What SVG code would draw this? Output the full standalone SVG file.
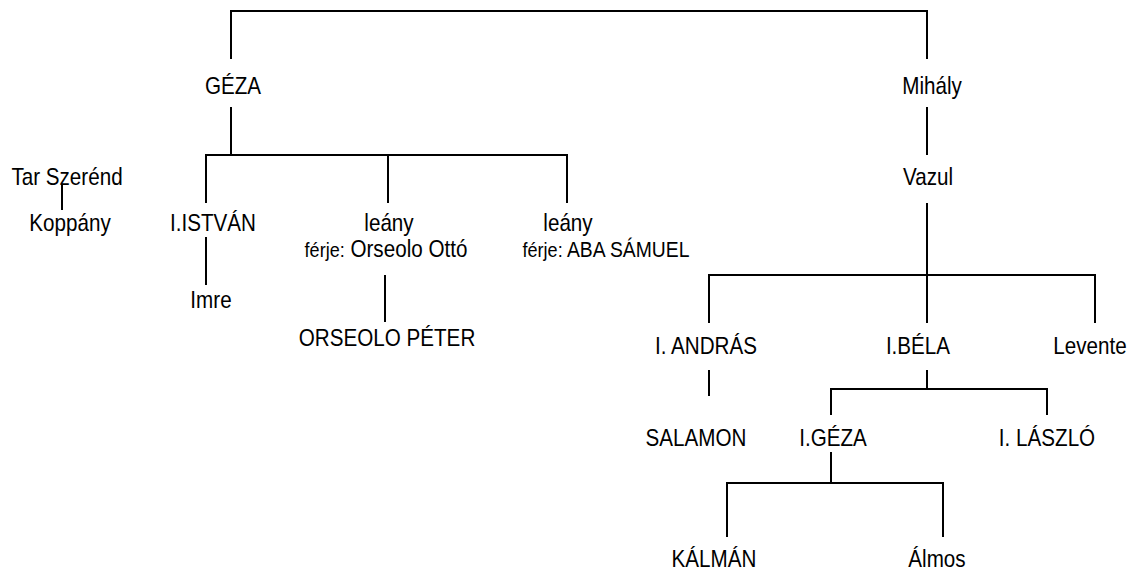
<svg xmlns="http://www.w3.org/2000/svg" width="1134" height="571" viewBox="0 0 1134 571">
<style>
  text { font-family: "Liberation Sans", Arial, sans-serif; font-size: 24px; fill: #000; text-anchor: middle; }
  .sm { font-size: 21px; }
  .md { font-size: 22.5px; }
  .conn path { fill: none; stroke: #000; stroke-width: 2; }
</style>
<rect width="1134" height="571" fill="#fff"/>
<g class="conn" id="connectors">
  <path d="M231,59 V11 H927 V59"/>
  <path d="M231,107 V155"/>
  <path d="M206,203 V155 H567 V203"/>
  <path d="M388,155 V203"/>
  <path d="M206,237 V285"/>
  <path d="M385,275 V322"/>
  <path d="M62,185 V210"/>
  <path d="M927,107 V155"/>
  <path d="M927,203 V323"/>
  <path d="M709,323 V275 H1095 V323"/>
  <path d="M709,370 V396"/>
  <path d="M927,370 V389"/>
  <path d="M831,415 V389 H1047 V415"/>
  <path d="M831,452 V483"/>
  <path d="M727,537 V483 H943 V537"/>
</g>
<g id="geza"><text transform="translate(233,94) scale(0.86,1)">GÉZA</text></g>
<g id="mihaly"><text transform="translate(932,94) scale(0.86,1)">Mihály</text></g>
<g id="tar-szerend"><text transform="translate(67,185) scale(0.86,1)">Tar Szerénd</text></g>
<g id="vazul"><text transform="translate(928,185) scale(0.86,1)">Vazul</text></g>
<g id="koppany"><text transform="translate(70,231) scale(0.86,1)">Koppány</text></g>
<g id="istvan"><text transform="translate(213,231) scale(0.86,1)">I.ISTVÁN</text></g>
<g id="leany1"><text transform="translate(389,231) scale(0.86,1)">leány</text><text transform="translate(386,257) scale(0.86,1)"><tspan class="sm">férje:</tspan> Orseolo Ottó</text></g>
<g id="leany2"><text transform="translate(568,231) scale(0.86,1)">leány</text><text transform="translate(606,257) scale(0.86,1)"><tspan class="sm">férje:</tspan><tspan class="md"> ABA SÁMUEL</tspan></text></g>
<g id="imre"><text transform="translate(211,308) scale(0.86,1)">Imre</text></g>
<g id="orseolo-peter"><text transform="translate(387,346) scale(0.86,1)">ORSEOLO PÉTER</text></g>
<g id="andras"><text transform="translate(706,354) scale(0.86,1)">I. ANDRÁS</text></g>
<g id="bela"><text transform="translate(918,354) scale(0.86,1)">I.BÉLA</text></g>
<g id="levente"><text transform="translate(1090,354) scale(0.86,1)">Levente</text></g>
<g id="salamon"><text transform="translate(696,446) scale(0.86,1)">SALAMON</text></g>
<g id="i-geza"><text transform="translate(833,446) scale(0.86,1)">I.GÉZA</text></g>
<g id="laszlo"><text transform="translate(1047,446) scale(0.86,1)">I. LÁSZLÓ</text></g>
<g id="kalman"><text transform="translate(714,567) scale(0.86,1)">KÁLMÁN</text></g>
<g id="almos"><text transform="translate(937,567) scale(0.86,1)">Álmos</text></g>
</svg>
